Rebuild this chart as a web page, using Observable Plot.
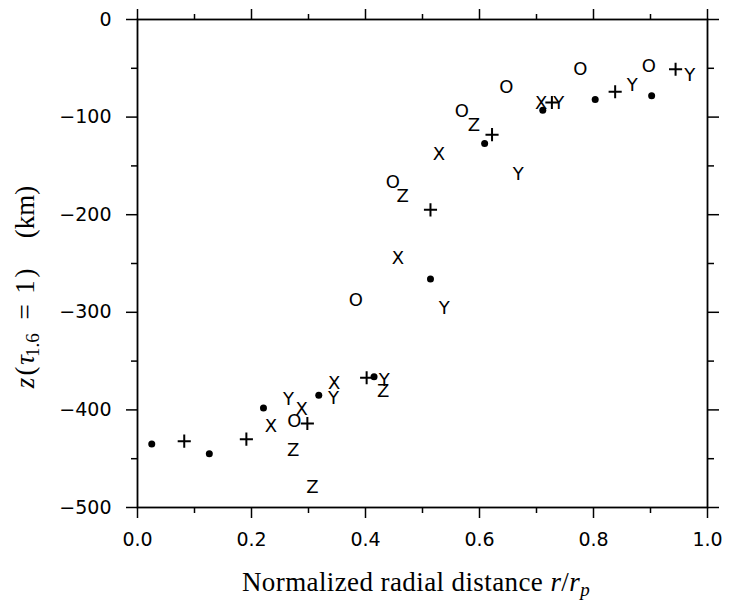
<!DOCTYPE html>
<html><head><meta charset="utf-8">
<script src="https://cdn.jsdelivr.net/npm/d3@7"></script>
<script src="https://cdn.jsdelivr.net/npm/@observablehq/plot@0.6"></script>
<style>body{margin:0;background:#fff} svg{display:block}</style>
</head><body><div id="chart"></div>
<script>
// "*" series (filled blobs)
const starX = [0.025, 0.126, 0.221, 0.318, 0.415, 0.514, 0.609, 0.711, 0.803, 0.902];
const starY = [-435, -445, -398, -385, -366, -266, -127, -93, -82, -78];
// "+" series
const plusX = [0.082, 0.191, 0.298, 0.402, 0.514, 0.622, 0.727, 0.838, 0.944];
const plusY = [-432, -430, -414, -367, -195, -118, -85, -74, -51];
// "O" series
const oX = [0.275, 0.383, 0.448, 0.569, 0.647, 0.777, 0.897];
const oY = [-412, -288, -167, -94, -69, -51, -48];
// "X" series
const xX = [0.234, 0.288, 0.345, 0.457, 0.529, 0.708];
const xY = [-417, -399, -373, -245, -138, -86];
// "Y" series
const yX = [0.265, 0.344, 0.433, 0.538, 0.668, 0.739, 0.868, 0.969];
const yY = [-389, -388, -370, -296, -159, -86, -67, -57];
// "Z" series
const zX = [0.273, 0.307, 0.431, 0.465, 0.590];
const zY = [-441, -479, -381, -181, -108];

const xMajorTicks = [0, 0.2, 0.4, 0.6, 0.8, 1.0];
const xMinorTicks = [0.1, 0.3, 0.5, 0.7, 0.9];
const yMajorTicks = [0, -100, -200, -300, -400, -500];
const yMinorTicks = [-50, -150, -250, -350, -450];

const rows = (xs, ys) => xs.map((x, i) => ({x, y: ys[i]}));
const letterFont = "DejaVu Sans, sans-serif";
const tickFont = "DejaVu Sans, sans-serif";
const letter = (xs, ys, ch) => Plot.text(rows(xs, ys), {x: "x", y: "y", text: () => ch, fontFamily: letterFont, fontSize: 18, fill: "black"});
const blank = () => "";

const plot = Plot.plot({
  width: 731, height: 608,
  marginLeft: 137, marginRight: 24, marginTop: 19, marginBottom: 101,
  x: {domain: [0, 1], axis: null},
  y: {domain: [-500, 0], axis: null},
  style: {background: "white", color: "black", fontFamily: tickFont, fontSize: "19px"},
  marks: [
    Plot.axisX(xMinorTicks, {anchor: "bottom", tickSize: 6, strokeWidth: 1.5, tickFormat: blank, label: null}),
    Plot.axisX(xMajorTicks, {anchor: "top", tickSize: 11, strokeWidth: 1.5, tickFormat: blank, label: null}),
    Plot.axisX(xMinorTicks, {anchor: "top", tickSize: 6, strokeWidth: 1.5, tickFormat: blank, label: null}),
    Plot.axisY(yMinorTicks, {anchor: "left", tickSize: 6, strokeWidth: 1.5, tickFormat: blank, label: null}),
    Plot.axisY(yMajorTicks, {anchor: "right", tickSize: 11, strokeWidth: 1.5, tickFormat: blank, label: null}),
    Plot.axisY(yMinorTicks, {anchor: "right", tickSize: 6, strokeWidth: 1.5, tickFormat: blank, label: null}),
    Plot.axisX(xMajorTicks, {anchor: "bottom", tickSize: 11, tickPadding: 14, strokeWidth: 1.5, tickFormat: d3.format(".1f"), fontSize: 19, fontFamily: tickFont, fill: "black", label: null}),
    Plot.axisY(yMajorTicks, {anchor: "left", tickSize: 11, tickPadding: 15, strokeWidth: 1.5, fontSize: 19, fontFamily: tickFont, fill: "black", label: null}),
    Plot.frame({stroke: "black", strokeWidth: 1.8}),
    Plot.dot(rows(starX, starY), {x: "x", y: "y", r: 3.5, fill: "black"}),
    Plot.dot(rows(plusX, plusY), {x: "x", y: "y", symbol: "plus", r: 4.3, stroke: "black", strokeWidth: 2}),
    letter(oX, oY, "O"),
    letter(xX, xY, "X"),
    letter(yX, yY, "Y"),
    letter(zX, zY, "Z")
  ]
});
document.getElementById("chart").appendChild(plot);

const svg = d3.select(plot);
const serif = "Liberation Serif, Times New Roman, serif";
const xt = svg.append("text")
  .attr("x", 416).attr("y", 591)
  .attr("text-anchor", "middle")
  .attr("font-family", serif).attr("font-size", 27).attr("fill", "#000")
  .attr("letter-spacing", 0.4)
  .style("white-space", "pre");
xt.append("tspan").text("Normalized radial distance ");
xt.append("tspan").attr("font-style", "italic").text("r");
xt.append("tspan").text("/");
xt.append("tspan").attr("font-style", "italic").text("r");
xt.append("tspan").attr("font-style", "italic").attr("font-size", 19).attr("dy", 5).text("p");

const yt = svg.append("text")
  .attr("transform", "translate(34,0) rotate(-90)")
  .attr("font-family", serif).attr("font-size", 27).attr("fill", "#000")
  .style("white-space", "pre");
yt.append("tspan").attr("x", -383).attr("font-style", "italic").text("z");
yt.append("tspan").attr("x", -371).text("(");
yt.append("tspan").attr("x", -360).attr("font-style", "italic").text("τ");
yt.append("tspan").attr("x", -345).attr("font-size", 19).attr("dy", 5).text("1.6");
yt.append("tspan").attr("x", -312).attr("dy", -5).text("=");
yt.append("tspan").attr("x", -287).text("1");
yt.append("tspan").attr("x", -273).text(")");
yt.append("tspan").attr("x", -212).text("(km)");
</script>
</body></html>
